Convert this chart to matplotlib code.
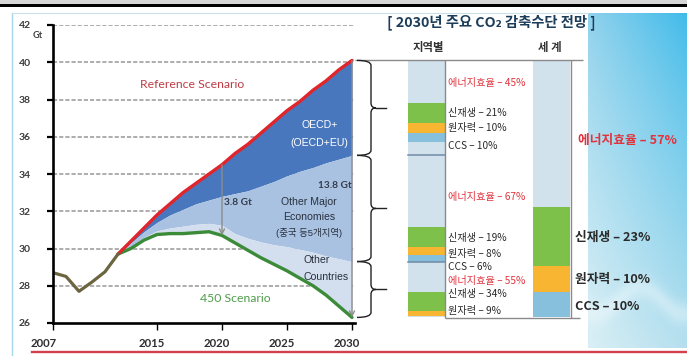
import numpy as np
import matplotlib
matplotlib.use("Agg")
import matplotlib.pyplot as plt
from matplotlib import font_manager
from matplotlib.path import Path
from matplotlib.patches import PathPatch, Rectangle
from matplotlib.transforms import ScaledTranslation
import matplotlib.colors as mcolors

# ---------------------------------------------------------------- data
years_hist = [2007, 2008, 2009, 2010, 2011, 2012]
hist_gt = [28.7, 28.5, 27.7, 28.2, 28.75, 29.7]

years_proj = list(range(2012, 2031))
reference_gt = [29.7, 30.4, 31.1, 31.8, 32.4, 33.0, 33.5, 34.0, 34.5, 35.1,
                35.6, 36.2, 36.8, 37.4, 37.9, 38.5, 39.0, 39.6, 40.1]
oecd_floor_gt = [29.7, 30.3, 30.9, 31.4, 31.8, 32.1, 32.4, 32.6, 32.8, 32.95,
                 33.1, 33.35, 33.6, 33.9, 34.15, 34.35, 34.6, 34.8, 35.0]
major_floor_gt = [29.7, 30.1, 30.6, 30.95, 31.1, 31.2, 31.3, 31.35, 31.25, 30.8,
                  30.55, 30.35, 30.2, 30.1, 29.95, 29.8, 29.6, 29.45, 29.3]
s450_gt = [29.7, 30.0, 30.45, 30.75, 30.8, 30.8, 30.85, 30.9, 30.7, 30.3,
           29.9, 29.5, 29.15, 28.8, 28.4, 28.0, 27.5, 26.9, 26.3]

x_ticks = [2007, 2015, 2020, 2025, 2030]
y_ticks = [26, 28, 30, 32, 34, 36, 38, 40, 42]

measures = ["에너지효율", "신재생", "원자력", "CCS"]
oecd_share = [45, 21, 10, 10]
major_share = [67, 19, 8, 6]
other_share = [55, 34, 9, 0]
world_share = [57, 23, 10, 10]

# ---------------------------------------------------------------- style
W, H, DPI = 687, 356, 100


def pick(*names):
    avail = {f.name for f in font_manager.fontManager.ttflist}
    return [n for n in names if n in avail] or ["DejaVu Sans"]


LATIN = pick("Lato", "Open Sans", "DejaVu Sans")
NARROW = pick("Liberation Sans Narrow", "Liberation Sans")
KR = ["Noto Sans CJK KR", "DejaVu Sans"]
KR_NARROW = NARROW + ["Noto Sans CJK KR", "DejaVu Sans"]

C_OECD = "#4877bd"
C_MAJOR = "#a9c2e2"
C_OTHER = "#d3deee"
C_REF = "#e0262c"
C_450 = "#3b8b38"
C_HIST = "#6c6640"
C_EFF = "#d2e2ed"
C_REN = "#7dc14b"
C_NUC = "#f8b531"
C_CCS = "#86c0dc"
measure_colors = [C_EFF, C_REN, C_NUC, C_CCS]
C_RED_TXT = "#e2333d"

fig = plt.figure(figsize=(W / DPI, H / DPI), dpi=DPI)
fig.patch.set_facecolor("white")

# pixel-coordinate layer for decoration and headings
deco = fig.add_axes([0, 0, 1, 1], zorder=0)
deco.set_xlim(0, W)
deco.set_ylim(H, 0)
deco.axis("off")

# sky-blue side panel
nx, ny = 80, 240
uu = np.linspace(0, 1, nx)[None, :, None]
vv = np.linspace(0, 1, ny)[:, None, None]
rgb = lambda c: np.array(mcolors.to_rgb(c))
top_row = (1 - uu) * rgb("#8fd1ec") + uu * rgb("#3fbbea")
bot_row = (1 - uu) * rgb("#d9eff5") + uu * rgb("#b5dfee")
mix = vv ** 0.8
grad = top_row * (1 - mix) + bot_row * mix
wave = np.exp(-((vv - (0.86 + 0.04 * np.sin(7 * uu + 1))) / 0.035) ** 2)
grad = grad + (1 - grad) * 0.35 * wave
deco.imshow(np.clip(grad, 0, 1), extent=(588, W, 348, 13), aspect="auto",
            origin="upper", zorder=0, interpolation="bilinear")

deco.add_patch(Rectangle((0, 0), W, 4.2, color="#d6d6d6", lw=0, zorder=1))
deco.add_patch(Rectangle((0, 4.2), W, 2.4, color="#000000", lw=0, zorder=1))
deco.plot([12, 12], [13, H], color="#a6d6ea", lw=1.0, zorder=1)
deco.plot([12, 588], [13, 13], color="#c9dfe9", lw=0.8, zorder=1)
deco.plot([32, W], [352, 352], color="#d2404c", lw=1.7, zorder=1)

deco.text(491, 22, "[ 2030년 주요 CO₂ 감축수단 전망 ]", family=KR, fontsize=10.3,
          fontweight="bold", color="#1c3d5a", ha="center", va="center", zorder=3)
deco.text(428, 48, "지역별", family=KR, fontsize=8.2, fontweight="bold",
          color="#333333", ha="center", va="center", zorder=3)
deco.text(550, 48, "세 계", family=KR, fontsize=8.2, fontweight="bold",
          color="#333333", ha="center", va="center", zorder=3)
deco.text(37.5, 35.5, "Gt", family=LATIN, fontsize=6.6, fontweight="bold",
          color="#404040", ha="center", va="center")

# ---------------------------------------------------------------- main chart
PX_PER_YEAR = 13.0
ax = fig.add_axes([53 / W, 1 - 323 / H, (355 - 53) / W, (323 - 25) / H], zorder=1)
ax.patch.set_alpha(0)
ax.set_xlim(2007, 2007 + (355 - 53) / PX_PER_YEAR)
ax.set_ylim(26, 42)

ax.fill_between(years_proj, oecd_floor_gt, reference_gt, color=C_OECD, lw=0, zorder=2)
ax.fill_between(years_proj, major_floor_gt, oecd_floor_gt, color=C_MAJOR, lw=0, zorder=2)
ax.fill_between(years_proj, s450_gt, major_floor_gt, color=C_OTHER, lw=0, zorder=2)

for y in y_ticks[1:]:
    ax.axhline(y, color="#a0a0a0", lw=1.2, ls=(0, (2.5, 1.2)), zorder=1)

ax.plot(years_proj, s450_gt, color=C_450, lw=2.4, solid_capstyle="round", zorder=4)
ax.plot(years_proj, reference_gt, color=C_REF, lw=2.4, solid_capstyle="round", zorder=4)
ax.plot(years_hist, hist_gt, color=C_HIST, lw=2.3, solid_capstyle="round", zorder=5)

for s in ("top", "right"):
    ax.spines[s].set_visible(False)
for s in ("left", "bottom"):
    ax.spines[s].set_linewidth(1.9)
    ax.spines[s].set_color("black")
    ax.spines[s].set_zorder(6)

ax.set_yticks(y_ticks)
ax.set_yticklabels([str(t) for t in y_ticks])
ax.set_xticks(x_ticks)
ax.set_xticklabels([str(t) for t in x_ticks])
ax.tick_params(axis="y", length=4, width=1.6, pad=12, labelsize=7.5,
               labelcolor="#3c3c3c")
ax.tick_params(axis="x", length=5, width=1.0, pad=6, labelsize=8.2,
               labelcolor="#2e2e2e")
for lab in ax.get_yticklabels() + ax.get_xticklabels():
    lab.set_family(LATIN)
    lab.set_fontweight("bold")
for lab, t in zip(ax.get_xticklabels(), x_ticks):
    dx = -9 if t == x_ticks[0] else -5
    lab.set_transform(lab.get_transform() + ScaledTranslation(dx / DPI, 0, fig.dpi_scale_trans))

# reduction arrows
i2020 = years_proj.index(2020)
arrow_kw = dict(arrowstyle="->", color="#8c8c8c", lw=1.0, mutation_scale=9,
                shrinkA=0, shrinkB=0)
ax.annotate("", xy=(2020, s450_gt[i2020]), xytext=(2020, reference_gt[i2020]),
            arrowprops=arrow_kw, zorder=5)
ax.annotate("", xy=(2030, s450_gt[-1]), xytext=(2030, reference_gt[-1]),
            arrowprops=arrow_kw, zorder=5, annotation_clip=False)
ax.text(2020.15, 32.45, f"{reference_gt[i2020] - s450_gt[i2020]:.1f} Gt",
        family=LATIN, fontsize=7.3, fontweight="bold", color="#353d4a",
        ha="left", va="center", zorder=6)
ax.text(2029.95, 33.4, f"{reference_gt[-1] - s450_gt[-1]:.1f} Gt",
        family=LATIN, fontsize=7.3, fontweight="bold", color="#353d4a",
        ha="right", va="center", zorder=6)

ax.text(2017.7, 38.83, "Reference Scenario", family=LATIN, fontsize=8.8,
        color="#bf3c45", ha="center", va="center", zorder=6)
ax.text(2021.0, 27.3, "450 Scenario", family=LATIN, fontsize=8.8,
        color="#4f9d4a", ha="center", va="center", zorder=6)

ax.text(2027.5, 36.64, "OECD+", family=NARROW, fontsize=7.6, color="white",
        ha="center", va="center", zorder=6)
ax.text(2027.45, 35.68, "(OECD+EU)", family=NARROW, fontsize=7.6, color="white",
        ha="center", va="center", zorder=6)
dark = "#28313e"
ax.text(2026.7, 32.5, "Other Major", family=NARROW, fontsize=7.6, color=dark,
        ha="center", va="center", zorder=6)
ax.text(2026.7, 31.68, "Economies", family=NARROW, fontsize=7.6, color=dark,
        ha="center", va="center", zorder=6)
ax.text(2026.7, 30.82, "(중국 등5개지역)", family=KR_NARROW, fontsize=6.8, color=dark,
        ha="center", va="center", zorder=6)
ax.text(2026.3, 29.38, "Other", family=NARROW, fontsize=7.6, color=dark,
        ha="left", va="center", zorder=6)
ax.text(2026.3, 28.46, "Countries", family=NARROW, fontsize=7.6, color=dark,
        ha="left", va="center", zorder=6)

# ---------------------------------------------------------------- right panel
# x in figure pixels, y in Gt (same vertical scale as the chart)
pn = fig.add_axes([355 / W, 1 - 323 / H, (W - 355) / W, (323 - 25) / H], zorder=2)
pn.patch.set_alpha(0)
pn.set_xlim(355, W)
pn.set_ylim(26, 42)
pn.axis("off")
GT_PX = (323 - 25) / 16.0

y_top = reference_gt[-1]
y_b1 = oecd_floor_gt[-1]
y_b2 = major_floor_gt[-1]
y_bot = s450_gt[-1]


def stack(x0, width, seg_top, seg_bot, shares):
    span = seg_top - seg_bot
    pn.add_patch(Rectangle((x0, seg_bot), width, span, facecolor=C_EFF, lw=0, zorder=1))
    cur = seg_top
    for share, col in zip(shares, measure_colors):
        h = span * share / 100.0
        pn.add_patch(Rectangle((x0, cur - h), width, h, facecolor=col, lw=0, zorder=2))
        cur -= h


stack(408, 37, y_top, y_b1, oecd_share)
stack(408, 37, y_b1, y_b2, major_share)
stack(408, 37, y_b2, y_bot, other_share)
stack(533, 37, y_top, y_bot, world_share)
for yb in (y_b1, y_b2):
    pn.plot([408, 445], [yb, yb], color="#6f8aa6", lw=1.1, zorder=3)

# frame lines of the bar panel
line_kw = dict(color="#8a8a8a", lw=1.0, zorder=4, solid_capstyle="butt")
pn.plot([355, 583], [y_top, y_top], **line_kw)
pn.plot([445, 445], [y_top, y_bot - 0.05], **line_kw)
pn.plot([570.5, 570.5], [y_top, y_bot - 0.05], **line_kw)
pn.plot([445, 580], [y_bot - 0.05, y_bot - 0.05], **line_kw)


def brace(seg_top, seg_bot):
    r = 5.0 / GT_PX
    x0, xv, xt, xe = 357, 371, 376, 386
    ym = 0.5 * (seg_top + seg_bot)
    verts = [(x0, seg_top), (xv, seg_top), (xv, seg_top - r),
             (xv, ym + r), (xv, ym), (xt, ym),
             (xv, ym), (xv, ym - r),
             (xv, seg_bot + r), (xv, seg_bot), (x0, seg_bot)]
    codes = [Path.MOVETO, Path.CURVE3, Path.CURVE3,
             Path.LINETO, Path.CURVE3, Path.CURVE3,
             Path.CURVE3, Path.CURVE3,
             Path.LINETO, Path.CURVE3, Path.CURVE3]
    pn.add_patch(PathPatch(Path(verts, codes), fill=False, ec="#222222",
                           lw=1.0, zorder=4))
    pn.plot([xt, xe], [ym, ym], color="#222222", lw=1.0, zorder=4)


brace(y_top, y_b1)
brace(y_b1, y_b2)
brace(y_b2, y_bot)

# regional share labels
region_shares = [oecd_share, major_share, other_share]
region_label_y = [[38.89, 37.28, 36.47, 35.50],
                  [32.77, 30.56, 29.70, 29.01],
                  [28.26, 27.56, 26.64, None]]
for shares, ys in zip(region_shares, region_label_y):
    for name, share, y, k in zip(measures, shares, ys, range(4)):
        if share == 0 or y is None:
            continue
        pn.text(448, y, f"{name} – {share}%", family=KR, fontsize=7.3,
                color=C_RED_TXT if k == 0 else "#2a2a2a",
                ha="left", va="center", zorder=5)

# world share labels
world_label_y = [35.83, 30.62, 28.31, 26.91]
world_label_x = [578, 575, 575, 575]
for k, (name, share, y, x) in enumerate(zip(measures, world_share, world_label_y, world_label_x)):
    pn.text(x, y, f"{name} – {share}%", family=KR, fontsize=9.2,
            fontweight="bold", color=C_RED_TXT if k == 0 else "#2a2a2a",
            ha="left", va="center", zorder=5, clip_on=False)

fig.savefig("out.png", dpi=DPI, facecolor="white")
